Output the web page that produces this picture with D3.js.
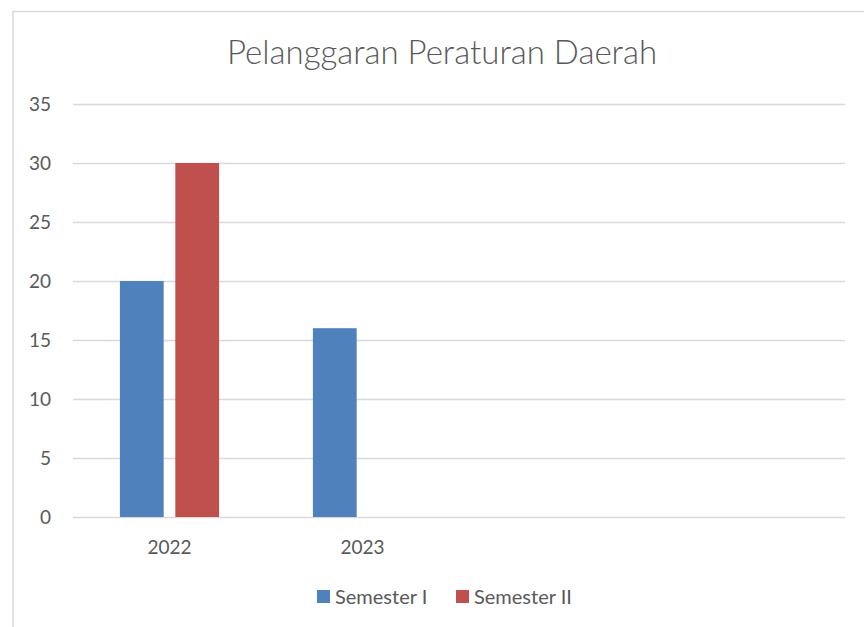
<!DOCTYPE html>
<html lang="id">
<head>
    <meta charset="UTF-8">
    <title>Pelanggaran Peraturan Daerah</title>
    <script src="https://cdn.jsdelivr.net/npm/d3@7.8.5/dist/d3.min.js"></script>
    <style>
        html, body { margin: 0; padding: 0; background: #fff; }
        text { font-family: Lato, "Open Sans", sans-serif; fill: #595959; }
    </style>
</head>
<body>
<div id="chart"></div>
<script type="text/javascript">
    const title = "Pelanggaran Peraturan Daerah";
    const categories = ["2022", "2023", "", " "];
    const seriesNames = ["Semester I", "Semester II"];
    const seriesColors = ["#4f81bd", "#c0504d"];
    const semester1 = [20, 16, null, null];
    const semester2 = [30, null, null, null];
    const yTicks = [0, 5, 10, 15, 20, 25, 30, 35];

    const width = 864, height = 627;
    const margin = {top: 104, right: 19, bottom: 110, left: 73};

    const svg = d3.select('#chart').append('svg')
        .attr('width', width)
        .attr('height', height);

    // chart area border (right/bottom run off the page)
    svg.append('rect')
        .attr('x', 13).attr('y', 11.5)
        .attr('width', 900).attr('height', 700)
        .attr('fill', 'none')
        .attr('stroke', '#d9d9d9')
        .attr('stroke-width', 1.5);

    const x0 = d3.scaleBand()
        .domain(categories)
        .range([margin.left, width - margin.right]);

    const y = d3.scaleLinear()
        .domain([0, 35])
        .range([517, 104]);

    const bw = x0.bandwidth();
    const x1 = d3.scaleBand()
        .domain(seriesNames)
        .range([bw * 0.243, bw * 0.757])
        .paddingInner(0.21);

    // gridlines
    svg.append('g')
        .selectAll('line')
        .data(yTicks)
        .join('line')
        .attr('x1', x0.range()[0])
        .attr('x2', x0.range()[1])
        .attr('y1', d => y(d) + 0.5)
        .attr('y2', d => y(d) + 0.5)
        .attr('stroke', '#d9d9d9')
        .attr('stroke-width', 1.5);

    // y labels
    svg.append('g')
        .selectAll('text')
        .data(yTicks)
        .join('text')
        .attr('x', 51)
        .attr('y', d => y(d))
        .attr('dy', '0.35em')
        .attr('text-anchor', 'end')
        .style('font-size', '19px')
        .text(d => d);

    // bars
    const rows = categories.map((c, i) => ({cat: c, vals: [semester1[i], semester2[i]]}));
    const groups = svg.append('g')
        .selectAll('g')
        .data(rows)
        .join('g')
        .attr('transform', d => `translate(${x0(d.cat)},0)`);

    groups.selectAll('rect')
        .data(d => d.vals.map((v, j) => ({s: seriesNames[j], v: v, j: j})).filter(e => e.v != null))
        .join('rect')
        .attr('x', d => x1(d.s))
        .attr('width', x1.bandwidth())
        .attr('y', d => y(d.v))
        .attr('height', d => y(0) - y(d.v))
        .attr('fill', d => seriesColors[d.j]);

    // x labels
    svg.append('g')
        .selectAll('text')
        .data(categories)
        .join('text')
        .attr('x', d => x0(d) + bw / 2)
        .attr('y', 547)
        .attr('dy', '0.35em')
        .attr('text-anchor', 'middle')
        .style('font-size', '19px')
        .text(d => d.trim());

    // title
    svg.append('text')
        .attr('x', 442)
        .attr('y', 52)
        .attr('dy', '0.35em')
        .attr('text-anchor', 'middle')
        .style('font-size', '33px')
        .style('font-weight', 300)
        .text(title);

    // legend
    const legendX = [317, 456];
    const legend = svg.append('g')
        .selectAll('g')
        .data(seriesNames)
        .join('g')
        .attr('transform', (d, i) => `translate(${legendX[i]},590)`);
    legend.append('rect')
        .attr('width', 13).attr('height', 13)
        .attr('fill', (d, i) => seriesColors[i]);
    legend.append('text')
        .attr('x', 18)
        .attr('y', 6.5)
        .attr('dy', '0.35em')
        .style('font-size', '20px')
        .text(d => d);
</script>
</body>
</html>
